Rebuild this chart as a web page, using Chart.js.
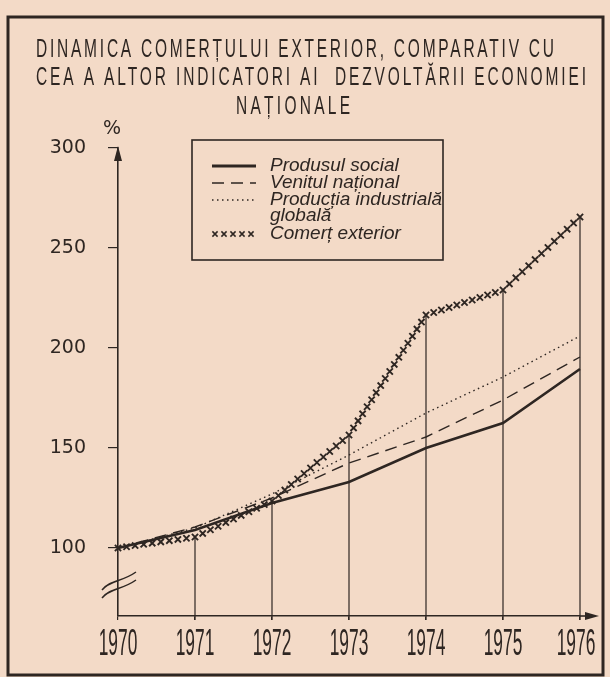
<!DOCTYPE html>
<html>
<head>
<meta charset="utf-8">
<script src="https://cdn.jsdelivr.net/npm/chart.js@4.4.0/dist/chart.umd.min.js"></script>
<style>
  html, body { margin: 0; padding: 0; background: #f3dac7; }
  #wrap { width: 610px; height: 677px; }
</style>
</head>
<body>
<div id="wrap"><canvas id="chart" width="610" height="677"></canvas></div>
<script>
// Date (indici, 1970 = 100)
const years = ['1970', '1971', '1972', '1973', '1974', '1975', '1976'];
const produsulSocial = [100, 109, 122.5, 133, 150, 162.5, 189.5];
const venitulNational = [100, 110.5, 125, 142.5, 155.5, 174, 195.5];
const productiaIndustriala = [100, 110, 127, 146.5, 167.5, 185.5, 206];
const comertExterior = [100, 105.5, 123.5, 156.5, 216.5, 229, 265.5];
const yTicks = [100, 150, 200, 250, 300];
const seriesLabels = ['Produsul social', 'Venitul național', 'Producția industrială\nglobală', 'Comerț exterior'];
const titleLines = [
  'DINAMICA COMERȚULUI EXTERIOR, COMPARATIV CU',
  'CEA A ALTOR INDICATORI AI  DEZVOLTĂRII ECONOMIEI',
  'NAȚIONALE'
];

const INK = '#2e2622';
const PAPER = '#f3dac7';
const SANS = "'Liberation Sans', 'DejaVu Sans', sans-serif";

function drawCross(ctx, x, y, r) {
  ctx.beginPath();
  ctx.moveTo(x - r, y - r); ctx.lineTo(x + r, y + r);
  ctx.moveTo(x + r, y - r); ctx.lineTo(x - r, y + r);
  ctx.stroke();
}

// litere inalte si inguste, intinse pe o latime data
function narrowText(ctx, text, x, y, width, sx) {
  ctx.save();
  ctx.translate(x, y);
  ctx.scale(sx, 1);
  ctx.letterSpacing = '0px';
  const w = ctx.measureText(text).width;
  const sp = (width / sx - w) / Math.max(1, text.length - 1);
  ctx.letterSpacing = sp.toFixed(2) + 'px';
  ctx.fillText(text, 0, 0);
  ctx.restore();
}

const paperPlugin = {
  id: 'paper',
  beforeDraw(chart) {
    const ctx = chart.ctx;
    ctx.save();
    ctx.fillStyle = PAPER;
    ctx.fillRect(0, 0, chart.width, chart.height);
    ctx.restore();
  },
  beforeDatasetsDraw(chart) {
    // linii verticale de la axa pana la punctul comertului exterior
    const ctx = chart.ctx;
    const pts = chart.getDatasetMeta(3).data;
    const bottom = chart.chartArea.bottom;
    ctx.save();
    ctx.strokeStyle = INK;
    ctx.lineWidth = 1.2;
    pts.forEach((p, i) => {
      if (i === 0) return;
      ctx.beginPath();
      ctx.moveTo(p.x, p.y);
      ctx.lineTo(p.x, bottom + 4);
      ctx.stroke();
    });
    ctx.restore();
  },
  afterDatasetsDraw(chart) {
    const ctx = chart.ctx;
    const pts = chart.getDatasetMeta(3).data;
    ctx.save();
    ctx.strokeStyle = INK;
    ctx.lineWidth = 1.9;
    for (let i = 0; i < pts.length - 1; i++) {
      const a = pts[i], b = pts[i + 1];
      const len = Math.hypot(b.x - a.x, b.y - a.y);
      const n = Math.max(1, Math.round(len / 8.5));
      for (let k = 0; k < n; k++) {
        drawCross(ctx, a.x + (b.x - a.x) * k / n, a.y + (b.y - a.y) * k / n, 3.1);
      }
    }
    const last = pts[pts.length - 1];
    drawCross(ctx, last.x, last.y, 3.1);
    ctx.restore();
  },
  afterDraw(chart) {
    const ctx = chart.ctx;
    const { left, right, top, bottom } = chart.chartArea;
    const xs = chart.scales.x;
    ctx.save();
    ctx.strokeStyle = INK;
    ctx.fillStyle = INK;

    // rama
    ctx.lineWidth = 3;
    ctx.strokeRect(8, 17, 595, 658);

    // axa X prelungita cu sageata
    ctx.lineWidth = 1.6;
    ctx.beginPath();
    ctx.moveTo(right, bottom);
    ctx.lineTo(590, bottom);
    ctx.stroke();
    ctx.beginPath();
    ctx.moveTo(599, bottom);
    ctx.lineTo(585, bottom - 4);
    ctx.lineTo(585, bottom + 4);
    ctx.closePath();
    ctx.fill();

    // sageata axa Y
    ctx.beginPath();
    ctx.moveTo(left, top - 2);
    ctx.lineTo(left - 4, top + 13);
    ctx.lineTo(left + 4, top + 13);
    ctx.closePath();
    ctx.fill();

    // intrerupere axa Y
    ctx.lineWidth = 1.5;
    [0, 8].forEach(off => {
      ctx.beginPath();
      ctx.moveTo(102, 590 + off);
      ctx.bezierCurveTo(110, 580 + off, 122, 582 + off, 136, 572 + off);
      ctx.stroke();
    });

    // etichete ani (cifre inalte, inguste)
    ctx.font = '37px ' + SANS;
    ctx.textBaseline = 'middle';
    xs.ticks.forEach((t, i) => {
      const label = years[i];
      const px = xs.getPixelForTick(i) - (i === years.length - 1 ? 4 : 0);
      ctx.save();
      ctx.translate(px, 645);
      ctx.scale(0.47, 1);
      ctx.textAlign = 'center';
      ctx.fillText(label, 0, 0);
      ctx.restore();
    });

    // %
    ctx.font = "19px 'DejaVu Sans', sans-serif";
    ctx.textAlign = 'center';
    ctx.textBaseline = 'alphabetic';
    ctx.fillText('%', 112, 134);

    // titlu
    ctx.textAlign = 'left';
    ctx.font = '25px ' + SANS;
    narrowText(ctx, titleLines[0], 36, 57, 518, 0.62);
    narrowText(ctx, titleLines[1], 36, 85, 550, 0.62);
    narrowText(ctx, titleLines[2], 236, 114, 114, 0.62);

    // legenda
    ctx.lineWidth = 1.6;
    ctx.strokeRect(192, 140, 251, 120);
    const ds = chart.data.datasets;
    const rows = [171, 188, 205, 239];
    ctx.font = 'italic 19px ' + SANS;
    ds.forEach((d, i) => {
      const y = rows[i];
      const my = y - 5;
      ctx.strokeStyle = INK;
      if (i < 3) {
        ctx.lineWidth = i === 0 ? 3 : 1.5;
        ctx.setLineDash(d.borderDash || []);
        ctx.beginPath();
        ctx.moveTo(212, my);
        ctx.lineTo(256, my);
        ctx.stroke();
        ctx.setLineDash([]);
      } else {
        ctx.lineWidth = 1.5;
        for (let k = 0; k < 5; k++) drawCross(ctx, 215 + k * 9, my, 2.6);
      }
      d.label.split('\n').forEach((line, j) => {
        ctx.fillText(line, 270, y + j * 16);
      });
    });
    ctx.restore();
  }
};

new Chart(document.getElementById('chart'), {
  type: 'line',
  data: {
    labels: years,
    datasets: [
      { label: seriesLabels[0], data: produsulSocial, borderColor: INK, borderWidth: 2.6, pointRadius: 0, tension: 0 },
      { label: seriesLabels[1], data: venitulNational, borderColor: INK, borderWidth: 1.4, borderDash: [12, 7], pointRadius: 0, tension: 0 },
      { label: seriesLabels[2], data: productiaIndustriala, borderColor: INK, borderWidth: 1.4, borderDash: [1.5, 3.5], pointRadius: 0, tension: 0 },
      { label: seriesLabels[3], data: comertExterior, borderColor: INK, showLine: false, pointRadius: 0, borderWidth: 0 }
    ]
  },
  options: {
    responsive: false,
    animation: false,
    layout: { padding: { top: 148, right: 30, bottom: 0, left: 0 } },
    plugins: {
      legend: { display: false },
      title: { display: false },
      tooltip: { enabled: false }
    },
    scales: {
      x: {
        offset: false,
        afterFit: axis => { axis.height = 61; },
        grid: { display: true, drawOnChartArea: false, tickLength: 4, color: INK, lineWidth: 1.2 },
        border: { display: true, color: INK, width: 1.6 },
        ticks: { display: false }
      },
      y: {
        min: 66,
        max: 300,
        afterFit: axis => { axis.width = 118; },
        afterBuildTicks: axis => { axis.ticks = yTicks.map(v => ({ value: v })); },
        grid: { display: true, drawOnChartArea: false, tickLength: 10, color: INK, lineWidth: 1.2 },
        border: { display: true, color: INK, width: 1.6 },
        ticks: {
          color: INK,
          padding: 22,
          font: { family: "'DejaVu Sans', sans-serif", size: 19 }
        }
      }
    }
  },
  plugins: [paperPlugin]
});
</script>
</body>
</html>
